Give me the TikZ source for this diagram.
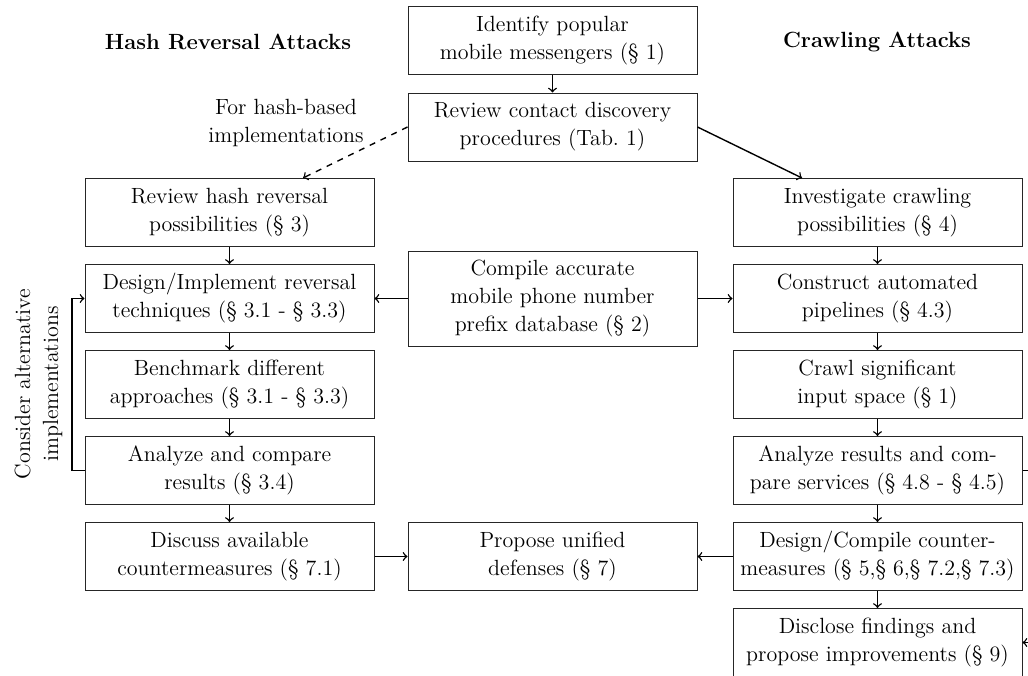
\documentclass[tikz,border=0pt]{standalone}
\usepackage{tikz}
\usetikzlibrary{arrows,positioning}
\tikzstyle{stepbox} = [draw=black!85, line width=0.5pt, minimum width=144.5pt, minimum height=34pt, inner sep=2pt, align=center, font=\fontsize{11}{14}\selectfont]
\tikzstyle{heading} = [align=center, font=\fontsize{11}{14}\selectfont\bfseries]
\tikzstyle{note} = [align=center, font=\fontsize{11}{14}\selectfont]
\tikzstyle{arrow} = [line width=0.7pt, ->]

\begin{document}
\begin{tikzpicture}[x=0.5pt, y=-0.5pt]
\clip (0,0) rectangle (1028,675);

% Column headings
\node[heading] (hashtitle) at (228,42) {Hash Reversal Attacks};
\node[heading] (crawltitle) at (877,42) {Crawling Attacks};

% Shared steps
\node[stepbox] (identify) at (552.5,40.5) {Identify popular\\mobile messengers (\S~1)};
\node[stepbox] (review) at (552.5,127) {Review contact discovery\\procedures (Tab.~1)};
\node[stepbox, minimum height=47.5pt] (prefix) at (552.5,298.5) {Compile accurate\\mobile phone number\\prefix database (\S~2)};
\node[stepbox] (unified) at (552.5,556.5) {Propose unified\\defenses (\S~7)};

% Hash reversal column
\node[stepbox] (hashrev) at (229.5,212.5) {Review hash reversal\\possibilities (\S~3)};
\node[stepbox] (hashimpl) at (229.5,298.5) {Design/Implement reversal\\techniques (\S~3.1 - \S~3.3)};
\node[stepbox] (hashbench) at (229.5,384.5) {Benchmark different\\approaches (\S~3.1 - \S~3.3)};
\node[stepbox] (hashcomp) at (229.5,470.5) {Analyze and compare\\results (\S~3.4)};
\node[stepbox] (hashcounter) at (229.5,556.5) {Discuss available\\countermeasures (\S~7.1)};

% Crawling column
\node[stepbox] (crawlposs) at (877.5,212.5) {Investigate crawling\\possibilities (\S~4)};
\node[stepbox] (crawlpipe) at (877.5,298.5) {Construct automated\\pipelines (\S~4.3)};
\node[stepbox] (crawlspace) at (877.5,384.5) {Crawl significant\\input space (\S~1)};
\node[stepbox] (crawlcomp) at (877.5,470.5) {Analyze results and com-\\pare services (\S~4.8 - \S~4.5)};
\node[stepbox] (crawlcounter) at (877.5,556.5) {Design/Compile counter-\\measures (\S~5,\S~6,\S~7.2,\S~7.3)};
\node[stepbox] (disclose) at (877.5,642.5) {Disclose findings and\\propose improvements (\S~9)};

% Split into the two attack types
\coordinate (hashend) at (303,178);
\coordinate (crawlend) at (802,178);
\draw[arrow] (identify) -- (review);
\draw[arrow, dashed] (review.west) -- (hashend);
\node[note] (hashnote) at (286,123) {For hash-based\\implementations};
\draw[arrow] (review.east) -- (crawlend);

% Hash reversal steps
\draw[arrow] (hashrev) -- (hashimpl);
\draw[arrow] (hashimpl) -- (hashbench);
\draw[arrow] (hashbench) -- (hashcomp);
\draw[arrow] (hashcomp) -- (hashcounter);

% Crawling steps
\draw[arrow] (crawlposs) -- (crawlpipe);
\draw[arrow] (crawlpipe) -- (crawlspace);
\draw[arrow] (crawlspace) -- (crawlcomp);
\draw[arrow] (crawlcomp) -- (crawlcounter);
\draw[arrow] (crawlcounter) -- (disclose);

% Prefix database feeds both sides
\draw[arrow] (prefix) -- (hashimpl);
\draw[arrow] (prefix) -- (crawlpipe);

% Defenses
\draw[arrow] (hashcounter) -- (unified);
\draw[arrow] (crawlcounter) -- (unified);

% Feedback loops
\coordinate (altloop) at (72,0);
\draw[arrow] (hashcomp.west) -- (hashcomp.west -| altloop) |- (hashimpl.west);
\node[note, rotate=90] (altnote) at (38.5,384) {Consider alternative\\implementations};
\coordinate (discloop) at (1045,0);
\draw[arrow] (crawlcomp.east) -- (crawlcomp.east -| discloop) |- (disclose.east);
\end{tikzpicture}
\end{document}
